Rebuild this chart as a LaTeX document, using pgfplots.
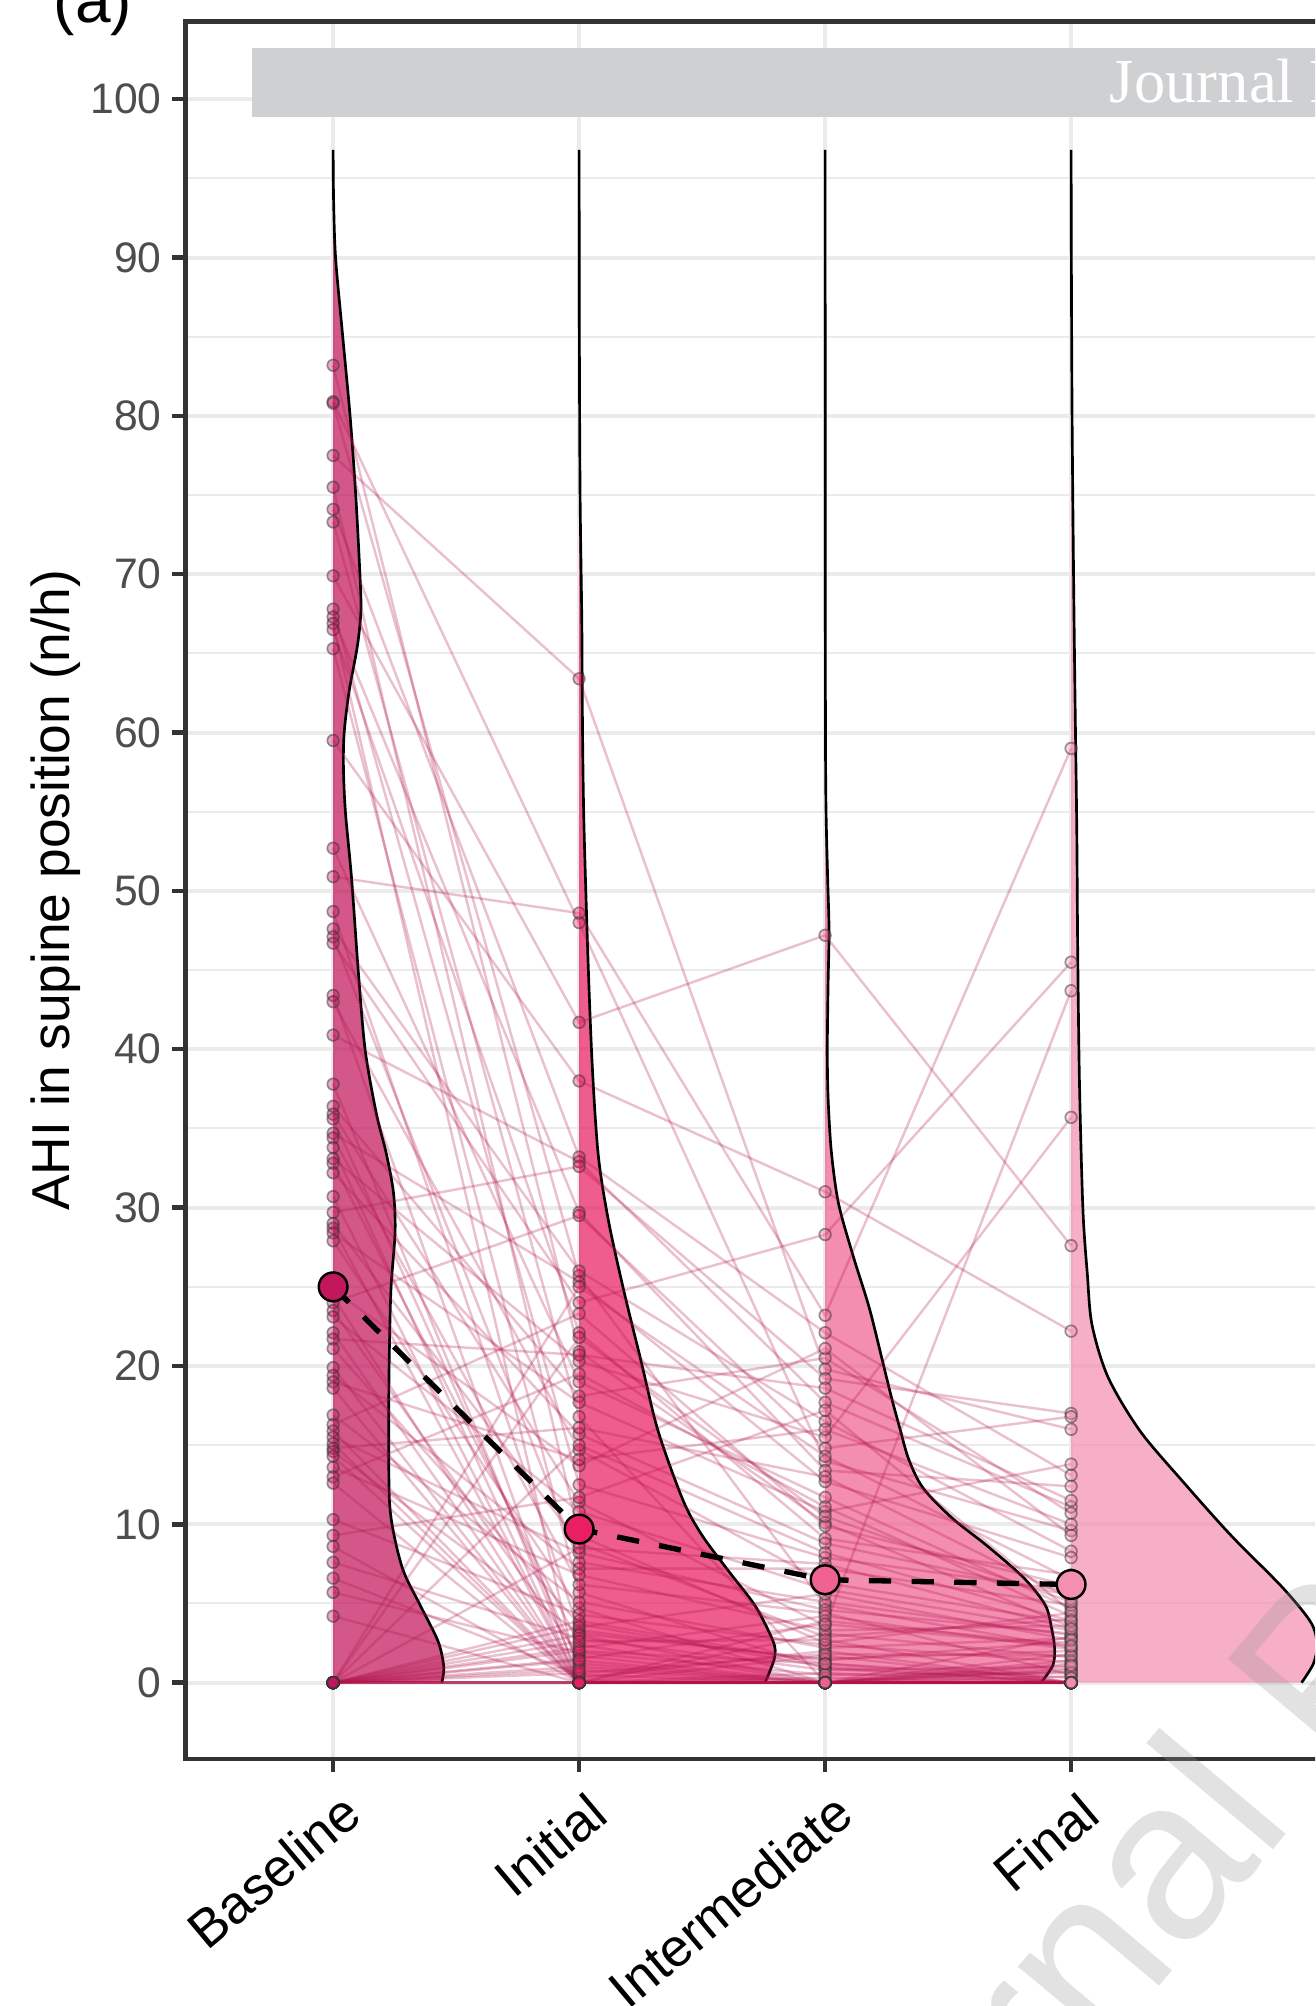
\documentclass[border=0pt]{standalone}
\usepackage{fontspec}
\setmainfont{Liberation Sans}
\newfontfamily\serifwm{Liberation Serif}
\usepackage{pgfplots}
\pgfplotsset{compat=1.18}
\usepackage{pgfplotstable}

\definecolor{cB}{HTML}{C2185B}
\definecolor{cI}{HTML}{E91E63}
\definecolor{cM}{HTML}{F06292}
\definecolor{cF}{HTML}{F48FB1}
\definecolor{gridc}{HTML}{EBEBEB}
\definecolor{framec}{HTML}{333333}
\definecolor{ticklab}{HTML}{4D4D4D}
\definecolor{subjline}{HTML}{B0124C}
\definecolor{bannerc}{RGB}{207,208,210}
\definecolor{wmc}{RGB}{150,150,150}

% one row per subject: Baseline, Initial, Intermediate, Final
\pgfplotstableread{
B I M F
83.2 20.9 10.1 3.5
80.9 48.0 14.0 9.6
80.8 25.7 4.9 2.2
77.5 63.4 19.8 16.0
75.5 9.3 2.5 4.4
74.1 33.2 22.1 13.1
73.3 16.8 0 0.8
69.9 41.7 47.2 27.6
67.8 12.5 7.9 5.8
67.3 29.7 13.4 12.4
66.9 0 3.1 1.6
66.5 22.1 9.1 6.8
65.3 5.7 0.9 0
59.5 38.0 31.0 22.2
52.7 19.0 11.7 4.7
50.9 48.6 23.2 59.0
48.7 3.3 1.4 2.6
47.6 26.0 16.5 8.3
47.1 7.6 5.1 3.0
46.7 24.0 28.3 45.5
43.4 0 0 1.2
43.0 14.7 6.3 3.8
40.9 32.9 17.7 11.1
37.8 0.3 2.0 0
36.4 18.1 20.5 10.7
35.9 11.4 3.6 43.7
35.6 1.2 0 2.9
34.7 25.3 12.7 7.9
34.4 6.2 4.4 0.5
33.8 0 1.7 0
33.1 20.3 15.5 35.7
32.8 2.4 0 1.8
32.2 15.7 8.8 5.5
30.7 0 0.6 0
29.7 32.6 19.2 17.0
29.0 8.8 2.9 4.0
28.7 0 0 0.4
28.4 17.7 10.8 13.8
27.9 4.7 0 0
24.8 13.7 21.1 9.3
24.4 0 3.9 2.4
24.0 29.5 14.8 16.8
23.5 1.7 0 0
23.1 10.8 5.9 3.3
22.1 0 0 0.9
21.7 20.7 18.6 11.5
21.1 3.7 1.0 0
19.9 0 0 1.4
19.4 7.2 7.2 4.9
19.0 14.1 16.0 10.0
18.6 0 0 0
16.9 5.1 2.2 2.8
16.3 23.3 9.9 6.1
15.9 0 0.3 0
15.5 8.2 4.6 3.1
15.1 0 0 0
14.8 16.1 13.0 5.3
14.6 3.1 1.5 2.0
14.3 0 0 0.7
13.6 6.8 3.3 3.6
13.0 19.5 11.1 4.2
12.6 0 0 0
10.3 4.3 2.4 1.3
9.3 11.7 17.2 4.5
8.6 0 0 0
7.6 2.8 0.8 1.0
6.6 0.5 0 0
5.7 1.9 0.5 0.6
4.2 0 0 0
0 25.0 14.3 6.5
0 0 0 0
0 21.8 10.5 5.1
0 3.9 1.2 0.3
0 15.0 8.2 3.9
0 0 0 0
0 2.2 4.2 2.1
0 8.5 7.5 3.4
0 1.0 0 0
0 3.5 5.6 2.7
0 0 0 0
0 0.6 1.8 1.7
0 3.0 0 0
0 1.5 3.7 2.3
0 0 0 0
0 2.6 2.7 0
0 0.8 0 1.1
0 2.0 1.2 0
0 1.4 0 0
0 0 0 0
}\subjects
\pgfplotstablegetrowsof{\subjects}
\pgfmathtruncatemacro{\nlast}{\pgfplotsretval-1}

\pgfplotsset{
  subj/.style={subjline, opacity=0.27, line width=0.5pt, mark=none},
  dots/.style={only marks, mark=*, mark size=1.2pt,
     mark options={fill=#1, draw=black!80, fill opacity=0.35, draw opacity=0.5, line width=0.35pt}},
  vfill/.style={draw=none, fill=#1, fill opacity=0.72, smooth, tension=0.5, mark=none},
  vline/.style={black, line width=0.55pt, smooth, tension=0.5, mark=none},
  meandot/.style={only marks, mark=*, mark size=2.96pt, mark options={fill=#1, draw=black, line width=0.5pt}},
}

\begin{document}
\begin{tikzpicture}
\path[use as bounding box] (0pt,0pt) rectangle (271.13pt,413.61pt);
\clip (0pt,0pt) rectangle (271.13pt,413.61pt);
\begin{axis}[
  at={(38.25pt,50.93pt)}, anchor=south west,
  scale only axis, width=263.75pt, height=358.21pt,
  xmin=0.4, xmax=5.6, ymin=-4.82, ymax=104.9,
  xtick={1,2,3,4}, xticklabels={Baseline,Initial,Intermediate,Final},
  ytick={0,10,...,100},
  minor ytick={5,15,...,95},
  xmajorgrids, ymajorgrids, yminorgrids,
  major grid style={gridc, line width=0.82pt},
  minor grid style={gridc, line width=0.41pt},
  tick align=outside, tick pos=left,
  major tick length=2.75pt, minor tick length=0pt,
  every tick/.style={framec, line width=0.9pt},
  axis line style={framec, line width=0.9pt},
  /pgf/number format/assume math mode=true,
  yticklabel style={font=\fontsize{8.8}{10}\selectfont, text=ticklab, anchor=east, inner sep=0pt, xshift=-2.0pt},
  xticklabel style={font=\fontsize{11}{13}\selectfont, text=black, xshift=1.3pt, yshift=-3.4pt, rotate=40, anchor=north east, inner sep=0pt},
  ylabel={AHI in supine position (n/h)},
  ylabel style={font=\fontsize{11}{13}\selectfont, at={(axis description cs:-0.1014,0.5)}, anchor=center},
]
% half violins (outline)
\addplot[vfill=cB] coordinates {(1.442,0) (1.450,1) (1.427,2.6) (1.357,4.8) (1.287,7) (1.248,9.3) (1.229,11.5) (1.226,16) (1.228,20.3) (1.235,24.8) (1.252,28.5) (1.245,31) (1.215,33.5) (1.175,36) (1.130,40) (1.102,45) (1.075,50.8) (1.050,55) (1.042,57.8) (1.045,60) (1.065,62.6) (1.099,65.5) (1.113,67.7) (1.109,70) (1.092,75) (1.069,80) (1.038,85.2) (1.010,90) (1.002,93.6) (1,96.8)} -- (axis cs:1,0) -- cycle;
\addplot[vline] coordinates {(1.442,0) (1.450,1) (1.427,2.6) (1.357,4.8) (1.287,7) (1.248,9.3) (1.229,11.5) (1.226,16) (1.228,20.3) (1.235,24.8) (1.252,28.5) (1.245,31) (1.215,33.5) (1.175,36) (1.130,40) (1.102,45) (1.075,50.8) (1.050,55) (1.042,57.8) (1.045,60) (1.065,62.6) (1.099,65.5) (1.113,67.7) (1.109,70) (1.092,75) (1.069,80) (1.038,85.2) (1.010,90) (1.002,93.6) (1,96.8)};

\addplot[vfill=cI] coordinates {(2.756,0) (2.780,0.9) (2.796,1.7) (2.789,2.6) (2.718,4.8) (2.610,7) (2.500,9.3) (2.423,11.5) (2.321,15.9) (2.252,20.3) (2.181,24.8) (2.119,29.2) (2.078,33.3) (2.054,38.8) (2.037,45.3) (2.020,54) (2.014,60) (2.011,67) (2.004,75) (2.001,85) (2,96.8)} -- (axis cs:2,0) -- cycle;
\addplot[vline] coordinates {(2.756,0) (2.780,0.9) (2.796,1.7) (2.789,2.6) (2.718,4.8) (2.610,7) (2.500,9.3) (2.423,11.5) (2.321,15.9) (2.252,20.3) (2.181,24.8) (2.119,29.2) (2.078,33.3) (2.054,38.8) (2.037,45.3) (2.020,54) (2.014,60) (2.011,67) (2.004,75) (2.001,85) (2,96.8)};

\addplot[vfill=cM] coordinates {(3.878,0) (3.926,1.1) (3.933,2.2) (3.920,3.5) (3.895,4.9) (3.809,6.6) (3.662,8.6) (3.516,10.4) (3.398,12.3) (3.340,14.1) (3.305,16) (3.270,18) (3.232,20.4) (3.179,23.7) (3.113,27) (3.054,30.3) (3.025,33.6) (3.012,37) (3.009,40) (3.012,44) (3.016,47.5) (3.010,51) (3.003,56) (3.001,65) (3,96.8)} -- (axis cs:3,0) -- cycle;
\addplot[vline] coordinates {(3.878,0) (3.926,1.1) (3.933,2.2) (3.920,3.5) (3.895,4.9) (3.809,6.6) (3.662,8.6) (3.516,10.4) (3.398,12.3) (3.340,14.1) (3.305,16) (3.270,18) (3.232,20.4) (3.179,23.7) (3.113,27) (3.054,30.3) (3.025,33.6) (3.012,37) (3.009,40) (3.012,44) (3.016,47.5) (3.010,51) (3.003,56) (3.001,65) (3,96.8)};

\addplot[vfill=cF] coordinates {(4.937,0) (4.985,1.2) (5.000,2.4) (4.975,3.8) (4.860,6.0) (4.650,9.3) (4.460,12.6) (4.280,15.9) (4.150,19.3) (4.085,22.6) (4.066,25.8) (4.048,29.9) (4.034,37.9) (4.027,46) (4.023,54) (4.016,62.1) (4.010,70) (4.004,80) (4.001,90) (4,96.8)} -- (axis cs:4,0) -- cycle;
\addplot[vline] coordinates {(4.937,0) (4.985,1.2) (5.000,2.4) (4.975,3.8) (4.860,6.0) (4.650,9.3) (4.460,12.6) (4.280,15.9) (4.150,19.3) (4.085,22.6) (4.066,25.8) (4.048,29.9) (4.034,37.9) (4.027,46) (4.023,54) (4.016,62.1) (4.010,70) (4.004,80) (4.001,90) (4,96.8)};

% subject trajectories
\pgfplotsforeachungrouped \subjrow in {0,...,\nlast}{%
  \pgfplotstablegetelem{\subjrow}{B}\of\subjects \let\vB\pgfplotsretval
  \pgfplotstablegetelem{\subjrow}{I}\of\subjects \let\vI\pgfplotsretval
  \pgfplotstablegetelem{\subjrow}{M}\of\subjects \let\vM\pgfplotsretval
  \pgfplotstablegetelem{\subjrow}{F}\of\subjects \let\vF\pgfplotsretval
  \edef\tmpplot{\noexpand\addplot[subj] coordinates {(1,\vB) (2,\vI) (3,\vM) (4,\vF)};}%
  \tmpplot
}

% individual points
\addplot[dots=cB] table[x expr=1, y=B]{\subjects};
\addplot[dots=cI] table[x expr=2, y=I]{\subjects};
\addplot[dots=cM] table[x expr=3, y=M]{\subjects};
\addplot[dots=cF] table[x expr=4, y=F]{\subjects};

% means
\addplot[black, line width=1.1pt, dash pattern=on 4.6pt off 4.2pt, mark=none] coordinates {(1,25.0) (2,9.7) (3,6.5) (4,6.2)};
\addplot[meandot=cB] coordinates {(1,25.0)};
\addplot[meandot=cI] coordinates {(2,9.7)};
\addplot[meandot=cM] coordinates {(3,6.5)};
\addplot[meandot=cF] coordinates {(4,6.2)};
\end{axis}
% watermarks and panel tag
\node[anchor=base west, inner sep=0pt, rotate=50, text=wmc, opacity=0.28, font=\fontsize{47}{52}\selectfont] at (168pt,-80.5pt) {Journal Pre-proof};
\fill[bannerc] (51.96pt,389.55pt) rectangle (280pt,403.65pt);
\node[anchor=base west, inner sep=0pt, text=white, font=\serifwm\fontsize{12.9}{14}\selectfont] at (228.66pt,392.37pt) {Journal Pre-proof};
\node[anchor=base west, inner sep=0pt, font=\fontsize{13.2}{15}\selectfont] at (10.9pt,408.87pt) {(a)};
\end{tikzpicture}
\end{document}
